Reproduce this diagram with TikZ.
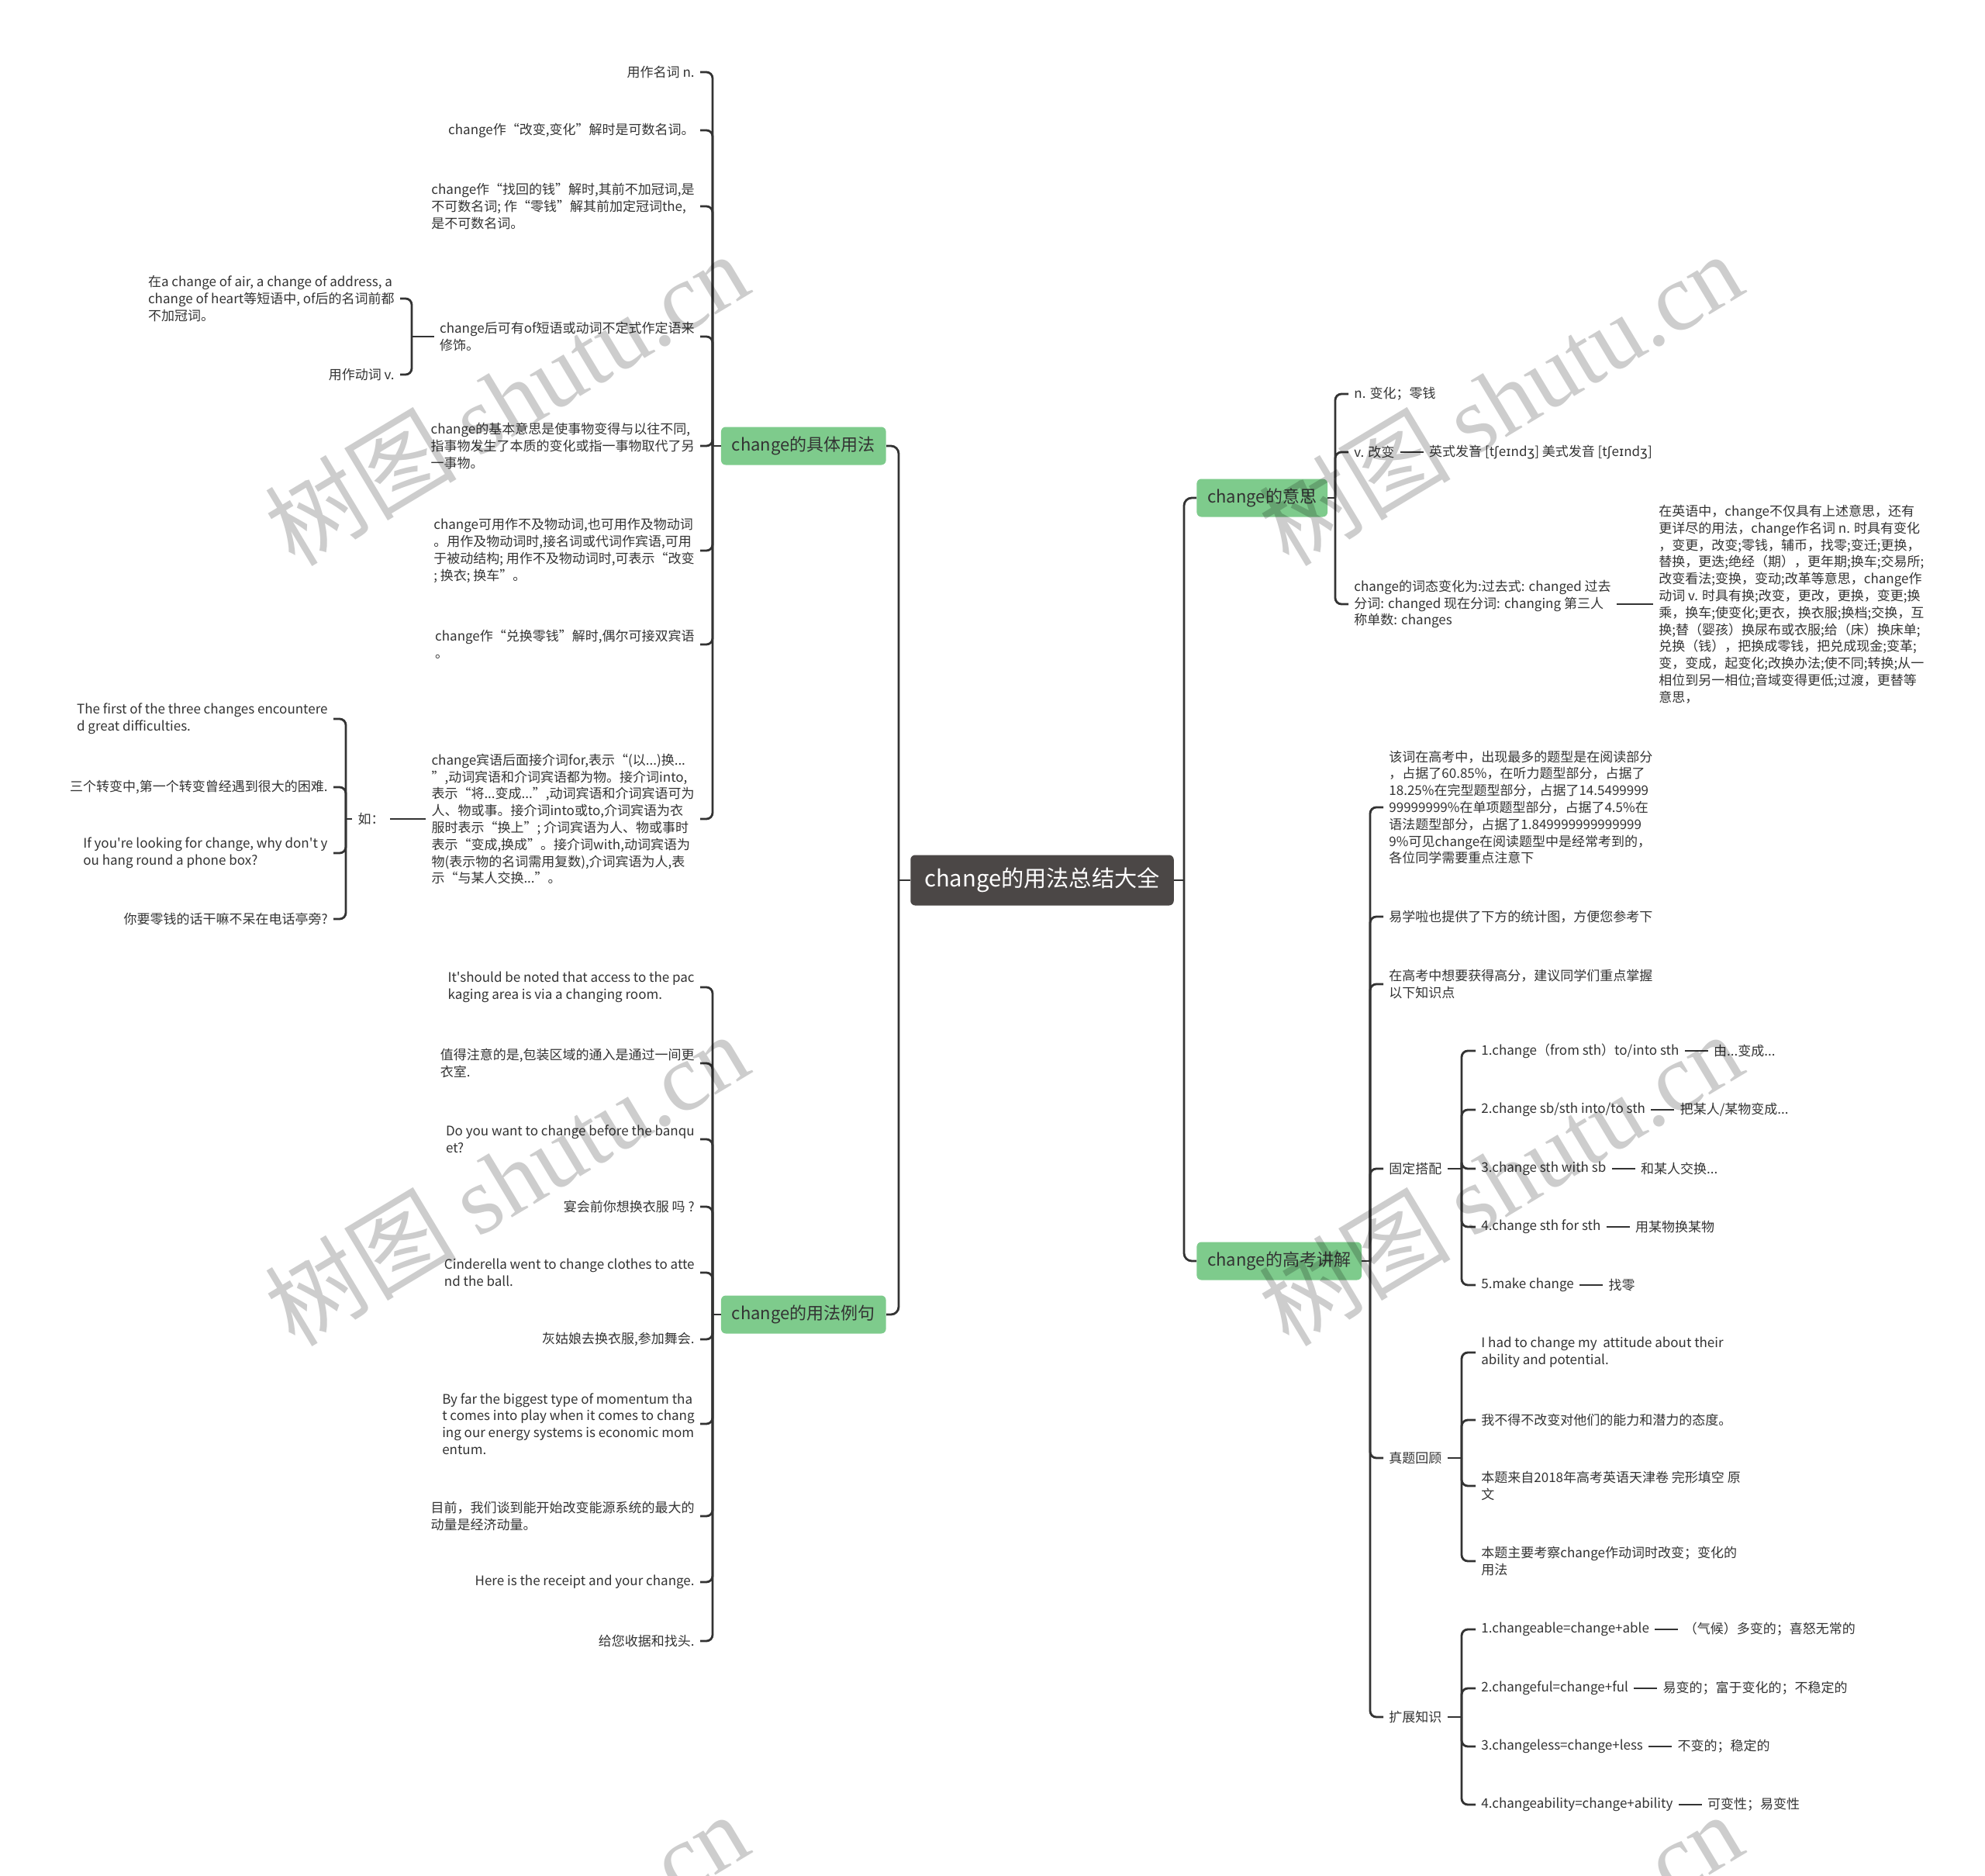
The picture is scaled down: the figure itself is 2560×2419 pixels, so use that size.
\documentclass[tikz,border=0pt]{standalone}
\usepackage{fontspec}
\setmainfont{Noto Sans CJK SC}[Ligatures=TeXOff]
\newfontfamily\ipafont{DejaVu Sans}
\newfontfamily\wmserif{Liberation Serif}
\usetikzlibrary{positioning}
\definecolor{lnc}{RGB}{51,51,51}
\definecolor{grn}{RGB}{126,203,140}
\definecolor{rootc}{RGB}{75,71,70}
\definecolor{wmc}{RGB}{205,205,205}
\newcommand{\ipa}[1]{{\ipafont #1}}
\begin{document}
\begin{tikzpicture}[x=0.5pt,y=-0.5pt,
  ln/.style={draw=lnc,line width=1.4pt},
  hook/.style={ln,rounded corners=4pt},
  mainlink/.style={ln,rounded corners=5pt},
  txt/.style={inner xsep=3.5pt,inner ysep=1pt,text=lnc,align=left,font=\fontsize{8.5pt}{10.9pt}\selectfont},
  lt/.style={txt,anchor=east},
  rt/.style={txt,anchor=west},
  lone/.style={fill=grn,rounded corners=3pt,text=lnc,font=\fontsize{11pt}{13pt}\selectfont,inner xsep=7pt,minimum height=24.5pt},
  rootbox/.style={fill=rootc,rounded corners=3pt,text=white,font=\fontsize{14.6pt}{17pt}\selectfont,inner xsep=9pt,minimum height=32.5pt},
  wm/.style={text=wmc,rotate=31,font=\fontsize{62pt}{62pt}\selectfont}
]
\useasboundingbox (0,0) rectangle (2560,2419);
\fill[white] (0,0) rectangle (2560,2419);

% ---------- root and main branches ----------
\node[rootbox] (root) at (1344,1135) {change的用法总结大全};
\node[lone,anchor=east] (ju) at (1143,575) {change的具体用法};
\node[lone,anchor=east] (li) at (1143,1695) {change的用法例句};
\node[lone,anchor=west] (ys) at (1543,642) {change的意思};
\node[lone,anchor=west] (gk) at (1543,1626) {change的高考讲解};

\coordinate (rL) at (1159,1135);
\coordinate (rR) at (1527,1135);
\draw[ln] (root.west) -- (rL);
\draw[mainlink] (rL) |- (ju.east);
\draw[mainlink] (rL) |- (li.east);
\draw[ln] (root.east) -- (rR);
\draw[mainlink] (rR) |- (ys.west);
\draw[mainlink] (rR) |- (gk.west);

% ---------- change的具体用法 ----------
\node[lt] (c1) at (903,93) {用作名词 n.};
\node[lt] (c2) at (903,168) {change作“改变,变化”解时是可数名词。};
\node[lt] (c3) at (903,266) {change作“找回的钱”解时,其前不加冠词,是\\不可数名词; 作“零钱”解其前加定冠词the,\\是不可数名词。};
\node[lt] (c4) at (903,434) {change后可有of短语或动词不定式作定语来\\修饰。};
\node[lt] (c5) at (903,575) {change的基本意思是使事物变得与以往不同,\\指事物发生了本质的变化或指一事物取代了另\\一事物。};
\node[lt] (c6) at (903,710) {change可用作不及物动词,也可用作及物动词\\。用作及物动词时,接名词或代词作宾语,可用\\于被动结构; 用作不及物动词时,可表示“改变\\; 换衣; 换车”。};
\node[lt] (c7) at (903,831) {change作“兑换零钱”解时,偶尔可接双宾语\\。};
\node[lt] (c8) at (903,1056) {change宾语后面接介词for,表示“(以...)换...\\”,动词宾语和介词宾语都为物。接介词into,\\表示“将...变成...”,动词宾语和介词宾语可为\\人、物或事。接介词into或to,介词宾语为衣\\服时表示“换上”; 介词宾语为人、物或事时\\表示“变成,换成”。接介词with,动词宾语为\\物(表示物的名词需用复数),介词宾语为人,表\\示“与某人交换...”。};
\coordinate (juB) at (919,575);
\draw[ln] (ju.west) -- (juB);
\foreach \c in {c1,c2,c3,c4,c5,c6,c7,c8} \draw[hook] (juB) |- (\c.east);

\node[lt] (c4a) at (516,385) {在a change of air, a change of address, a\\change of heart等短语中, of后的名词前都\\不加冠词。};
\node[lt] (c4b) at (516,483) {用作动词 v.};
\coordinate (c4B) at (531,434);
\draw[ln] (c4.west) -- (c4B);
\draw[hook] (c4B) |- (c4a.east);
\draw[hook] (c4B) |- (c4b.east);

\node[lt] (ru) at (503,1056) {如：};
\draw[ln] (c8.west) -- (ru.east);
\coordinate (ruB) at (446,1056);
\draw[ln] (ru.west) -- (ruB);
\node[lt] (e1) at (430,927) {The first of the three changes encountere\\d great difficulties.};
\node[lt] (e2) at (430,1015) {三个转变中,第一个转变曾经遇到很大的困难.};
\node[lt] (e3) at (430,1100) {If you're looking for change, why don't y\\ou hang round a phone box?};
\node[lt] (e4) at (430,1185) {你要零钱的话干嘛不呆在电话亭旁?};
\foreach \c in {e1,e2,e3,e4} \draw[hook] (ruB) |- (\c.east);

% ---------- change的用法例句 ----------
\node[lt] (s1) at (903,1273) {It'should be noted that access to the pac\\kaging area is via a changing room.};
\node[lt] (s2) at (903,1371) {值得注意的是,包装区域的通入是通过一间更\\衣室.};
\node[lt] (s3) at (903,1469) {Do you want to change before the banqu\\et?};
\node[lt] (s4) at (903,1556) {宴会前你想换衣服 吗 ?};
\node[lt] (s5) at (903,1641) {Cinderella went to change clothes to atte\\nd the ball.};
\node[lt] (s6) at (903,1727) {灰姑娘去换衣服,参加舞会.};
\node[lt] (s7) at (903,1836) {By far the biggest type of momentum tha\\t comes into play when it comes to chang\\ing our energy systems is economic mom\\entum.};
\node[lt] (s8) at (903,1955) {目前，我们谈到能开始改变能源系统的最大的\\动量是经济动量。};
\node[lt] (s9) at (903,2040) {Here is the receipt and your change.};
\node[lt] (s10) at (903,2116) {给您收据和找头.};
\coordinate (liB) at (919,1695);
\draw[ln] (li.west) -- (liB);
\foreach \c in {s1,s2,s3,s4,s5,s6,s7,s8,s9,s10} \draw[hook] (liB) |- (\c.east);

% ---------- change的意思 ----------
\node[rt] (m1) at (1739,508) {n. 变化；零钱};
\node[rt] (m2) at (1739,583) {v. 改变};
\node[rt,right=15pt of m2] (m2p) {英式发音 [t\ipa{ʃ}e\ipa{ɪ}nd\ipa{ʒ}] 美式发音 [t\ipa{ʃ}e\ipa{ɪ}nd\ipa{ʒ}]};
\draw[ln] (m2.east) -- (m2p.west);
\node[rt] (m3) at (1739,779) {change的词态变化为:过去式: changed 过去\\分词: changed 现在分词: changing 第三人\\称单数: changes};
\node[rt] (m3d) at (2132,779) {在英语中，change不仅具有上述意思，还有\\更详尽的用法，change作名词 n. 时具有变化\\，变更，改变;零钱，辅币，找零;变迁;更换，\\替换，更迭;绝经（期），更年期;换车;交易所;\\改变看法;变换，变动;改革等意思，change作\\动词 v. 时具有换;改变，更改，更换，变更;换\\乘，换车;使变化;更衣，换衣服;换档;交换，互\\换;替（婴孩）换尿布或衣服;给（床）换床单;\\兑换（钱），把换成零钱，把兑成现金;变革;\\变，变成，起变化;改换办法;使不同;转换;从一\\相位到另一相位;音域变得更低;过渡，更替等\\意思，};
\draw[ln] (m3.east) -- (m3d.west);
\coordinate (ysB) at (1722,642);
\draw[ln] (ys.east) -- (ysB);
\foreach \c in {m1,m2,m3} \draw[hook] (ysB) |- (\c.west);

% ---------- change的高考讲解 ----------
\node[rt] (g1) at (1784,1041) {该词在高考中，出现最多的题型是在阅读部分\\，占据了60.85\%，在听力题型部分，占据了\\18.25\%在完型题型部分，占据了14.5499999\\99999999\%在单项题型部分，占据了4.5\%在\\语法题型部分，占据了1.849999999999999\\9\%可见change在阅读题型中是经常考到的，\\各位同学需要重点注意下};
\node[rt] (g2) at (1784,1182) {易学啦也提供了下方的统计图，方便您参考下};
\node[rt] (g3) at (1784,1269) {在高考中想要获得高分，建议同学们重点掌握\\以下知识点};
\node[rt] (g4) at (1784,1507) {固定搭配};
\node[rt] (g5) at (1784,1880) {真题回顾};
\node[rt] (g6) at (1784,2214) {扩展知识};
\coordinate (gkB) at (1767,1626);
\draw[ln] (gk.east) -- (gkB);
\foreach \c in {g1,g2,g3,g4,g5,g6} \draw[hook] (gkB) |- (\c.west);

% 固定搭配
\node[rt] (f1) at (1903,1355) {1.change（from sth）to/into sth};
\node[rt] (f2) at (1903,1431) {2.change sb/sth into/to sth};
\node[rt] (f3) at (1903,1507) {3.change sth with sb};
\node[rt] (f4) at (1903,1582) {4.change sth for sth};
\node[rt] (f5) at (1903,1657) {5.make change};
\node[rt,right=15pt of f1] (f1m) {由...变成...};
\node[rt,right=15pt of f2] (f2m) {把某人/某物变成...};
\node[rt,right=15pt of f3] (f3m) {和某人交换...};
\node[rt,right=15pt of f4] (f4m) {用某物换某物};
\node[rt,right=15pt of f5] (f5m) {找零};
\foreach \c in {f1,f2,f3,f4,f5} \draw[ln] (\c.east) -- (\c m.west);
\coordinate (g4B) at (1885,1507);
\draw[ln] (g4.east) -- (g4B);
\foreach \c in {f1,f2,f3,f4,f5} \draw[hook] (g4B) |- (\c.west);

% 真题回顾
\node[rt] (z1) at (1903,1744) {I had to change my~ attitude about their\\ability and potential.};
\node[rt] (z2) at (1903,1831) {我不得不改变对他们的能力和潜力的态度。};
\node[rt] (z3) at (1903,1916) {本题来自2018年高考英语天津卷 完形填空 原\\文};
\node[rt] (z4) at (1903,2013) {本题主要考察change作动词时改变；变化的\\用法};
\coordinate (g5B) at (1885,1880);
\draw[ln] (g5.east) -- (g5B);
\foreach \c in {z1,z2,z3,z4} \draw[hook] (g5B) |- (\c.west);

% 扩展知识
\node[rt] (k1) at (1903,2101) {1.changeable=change+able};
\node[rt] (k2) at (1903,2177) {2.changeful=change+ful};
\node[rt] (k3) at (1903,2252) {3.changeless=change+less};
\node[rt] (k4) at (1903,2327) {4.changeability=change+ability};
\node[rt,right=15pt of k1] (k1m) {（气候）多变的；喜怒无常的};
\node[rt,right=15pt of k2] (k2m) {易变的；富于变化的；不稳定的};
\node[rt,right=15pt of k3] (k3m) {不变的；稳定的};
\node[rt,right=15pt of k4] (k4m) {可变性；易变性};
\foreach \c in {k1,k2,k3,k4} \draw[ln] (\c.east) -- (\c m.west);
\coordinate (g6B) at (1885,2214);
\draw[ln] (g6.east) -- (g6B);
\foreach \c in {k1,k2,k3,k4} \draw[hook] (g6B) |- (\c.west);

% ---------- watermark ----------
\begin{scope}[blend mode=multiply]
\clip (0,0) rectangle (2560,2419);
\node[wm] (w1) at (653,514) {树图 {\wmserif shutu.cn}};
\node[wm] (w2) at (653,1520) {树图 {\wmserif shutu.cn}};
\node[wm] (w3) at (1935,514) {树图 {\wmserif shutu.cn}};
\node[wm] (w4) at (1935,1520) {树图 {\wmserif shutu.cn}};
\node[wm] (w5) at (653,2526) {树图 {\wmserif shutu.cn}};
\node[wm] (w6) at (1935,2526) {树图 {\wmserif shutu.cn}};
\end{scope}
\end{tikzpicture}
\end{document}
